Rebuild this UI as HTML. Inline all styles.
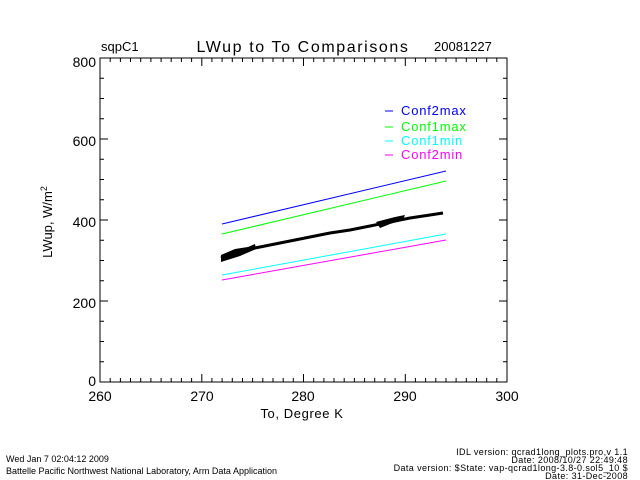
<!DOCTYPE html>
<html><head><style>body{margin:0;background:#fff}svg{display:block}text{font-family:"Liberation Sans",sans-serif}</style></head><body>
<svg width="640" height="480" xmlns="http://www.w3.org/2000/svg">
<rect width="640" height="480" fill="#fff"/>
<g font-size="13" fill="#000">
<text x="101" y="51">sqpC1</text>
<text x="303" y="52" text-anchor="middle" font-size="16" letter-spacing="1.6">LWup to To Comparisons</text>
<text x="434" y="51">20081227</text>
</g>
<rect x="100" y="58" width="407" height="324" fill="none" stroke="#000" stroke-width="1"/>
<path stroke="#000" stroke-width="1" fill="none" d="
M100,382v-8M110.2,382v-4M120.4,382v-4M130.5,382v-4M140.7,382v-4M150.9,382v-4M161.1,382v-4M171.2,382v-4M181.4,382v-4M191.6,382v-4M201.8,382v-8M211.9,382v-4M222.1,382v-4M232.3,382v-4M242.5,382v-4M252.6,382v-4M262.8,382v-4M273,382v-4M283.2,382v-4M293.3,382v-4M303.5,382v-8M313.7,382v-4M323.9,382v-4M334,382v-4M344.2,382v-4M354.4,382v-4M364.6,382v-4M374.7,382v-4M384.9,382v-4M395.1,382v-4M405.3,382v-8M415.4,382v-4M425.6,382v-4M435.8,382v-4M446,382v-4M456.1,382v-4M466.3,382v-4M476.5,382v-4M486.7,382v-4M496.8,382v-4
M110.2,58v4M120.4,58v4M130.5,58v4M140.7,58v4M150.9,58v4M161.1,58v4M171.2,58v4M181.4,58v4M191.6,58v4M201.8,58v8M211.9,58v4M222.1,58v4M232.3,58v4M242.5,58v4M252.6,58v4M262.8,58v4M273,58v4M283.2,58v4M293.3,58v4M303.5,58v8M313.7,58v4M323.9,58v4M334,58v4M344.2,58v4M354.4,58v4M364.6,58v4M374.7,58v4M384.9,58v4M395.1,58v4M405.3,58v8M415.4,58v4M425.6,58v4M435.8,58v4M446,58v4M456.1,58v4M466.3,58v4M476.5,58v4M486.7,58v4M496.8,58v4
M100,361.75h4M100,341.5h4M100,321.25h4M100,301h8M100,280.75h4M100,260.5h4M100,240.25h4M100,220h8M100,199.75h4M100,179.5h4M100,159.25h4M100,139h8M100,118.75h4M100,98.5h4M100,78.25h4
M507,361.75h-4M507,341.5h-4M507,321.25h-4M507,301h-8M507,280.75h-4M507,260.5h-4M507,240.25h-4M507,220h-8M507,199.75h-4M507,179.5h-4M507,159.25h-4M507,139h-8M507,118.75h-4M507,98.5h-4M507,78.25h-4"/>
<g font-size="14" fill="#000" text-anchor="end">
<text x="96" y="67">800</text><text x="96" y="146">600</text><text x="96" y="227">400</text><text x="96" y="308">200</text><text x="96" y="386">0</text>
</g>
<g font-size="14" fill="#000" text-anchor="middle">
<text x="100" y="401">260</text><text x="202" y="401">270</text><text x="303" y="401">280</text><text x="405" y="401">290</text><text x="507" y="401">300</text>
<text x="302" y="418" font-size="13" letter-spacing="0.6">To, Degree K</text>
</g>
<text transform="translate(52,222) rotate(-90)" font-size="13" text-anchor="middle">LWup, W/m<tspan font-size="9" dy="-5">2</tspan></text>
<line x1="222" y1="224" x2="446" y2="171" stroke="#0000ff"/>
<line x1="222" y1="234" x2="446" y2="181" stroke="#00ff00"/>
<line x1="222" y1="275" x2="446" y2="234" stroke="#00ffff"/>
<line x1="222" y1="280" x2="446" y2="240" stroke="#ff00ff"/>
<polyline points="221,258 235,253 250,249 270,245 290,241 310,237 330,233 350,230 370,226 390,222 410,218 430,215 443,213" fill="none" stroke="#000" stroke-width="3"/>
<polygon points="221,255 235,249 248,247 255,244 256,249 240,256 221,262" fill="#000"/>
<polygon points="376,222 395,217 405,215 403,220 390,224 380,228" fill="#000"/>
<g font-size="13" letter-spacing="0.8">
<line x1="385" y1="111" x2="393" y2="111" stroke="#0000ff"/><text x="401" y="115" fill="#0000ff">Conf2max</text>
<line x1="385" y1="127" x2="393" y2="127" stroke="#00ff00"/><text x="401" y="131" fill="#00ff00">Conf1max</text>
<line x1="385" y1="141" x2="393" y2="141" stroke="#00ffff"/><text x="401" y="145" fill="#00ffff">Conf1min</text>
<line x1="385" y1="155" x2="393" y2="155" stroke="#ff00ff"/><text x="401" y="159" fill="#ff00ff">Conf2min</text>
</g>
<g font-size="9" fill="#000">
<text x="6" y="462">Wed Jan  7 02:04:12 2009</text>
<text x="6" y="474">Battelle Pacific Northwest National Laboratory, Arm Data Application</text>
<g text-anchor="end" letter-spacing="0.4">
<text x="628" y="455">IDL version: qcrad1long_plots.pro,v 1.1</text>
<text x="628" y="463">Date: 2008/10/27 22:49:48</text>
<text x="628" y="471">Data version: $State: vap-qcrad1long-3.8-0.sol5_10 $</text>
<text x="628" y="479">Date: 31-Dec-2008</text>
</g></g>
</svg>
</body></html>
